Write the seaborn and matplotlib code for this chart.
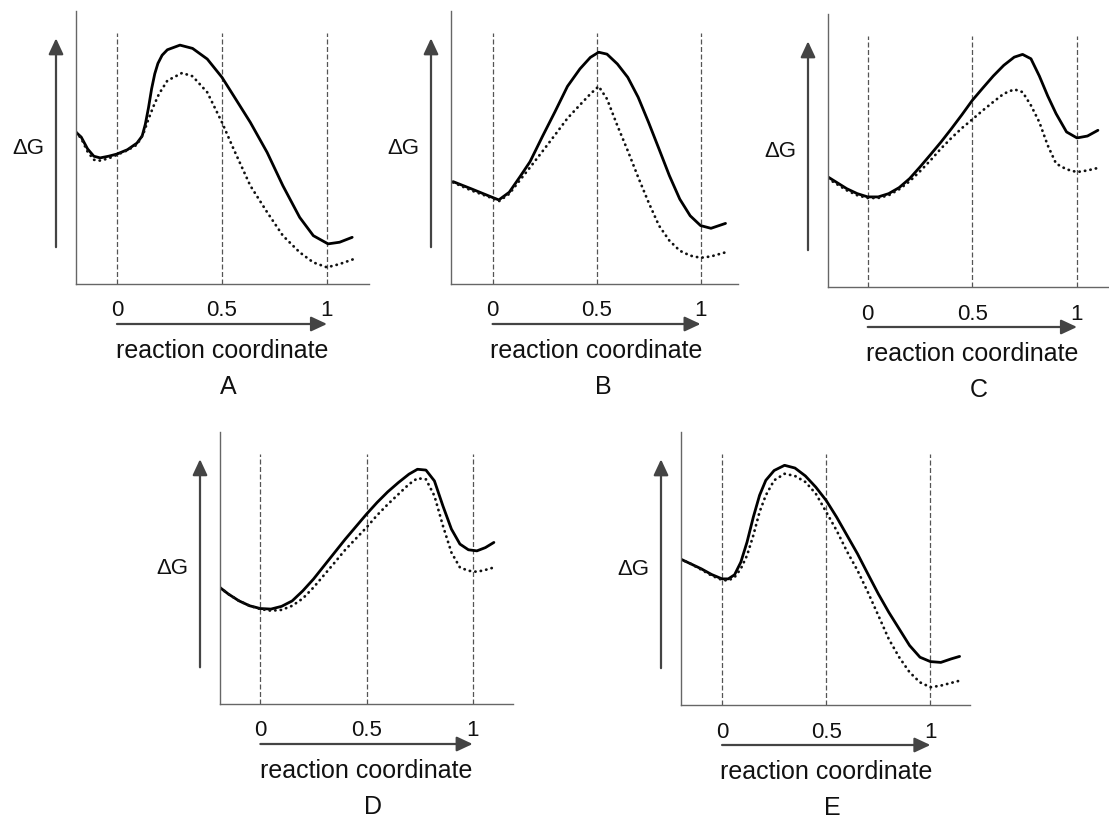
"""
Free energy profiles (A-E) along the reaction coordinate
"""

import matplotlib
matplotlib.use('Agg')
import matplotlib.pyplot as plt
import seaborn as sns

# reaction coordinate marks
TICKS = [0, 0.5, 1]
TICK_LABELS = ['0', '0.5', '1']

# panel A
A_x = [-0.195, -0.17, -0.14, -0.11, -0.08, -0.04, 0.0, 0.05, 0.095, 0.12, 0.135,
       0.15, 0.165, 0.18, 0.195, 0.215, 0.24, 0.30, 0.36, 0.43, 0.50, 0.555,
       0.635, 0.715, 0.79, 0.87, 0.935, 1.005, 1.06, 1.12]
A_solid = [5.56, 5.38, 4.95, 4.68, 4.62, 4.68, 4.76, 4.92, 5.16, 5.42, 5.85,
           6.45, 7.15, 7.70, 8.08, 8.38, 8.58, 8.75, 8.63, 8.24, 7.57, 6.90,
           5.92, 4.82, 3.60, 2.44, 1.77, 1.47, 1.53, 1.71]
A_dot_x = [-0.195, -0.17, -0.14, -0.11, -0.08, -0.04, 0.0, 0.05, 0.095, 0.125,
           0.15, 0.175, 0.20, 0.24, 0.31, 0.36, 0.43, 0.50, 0.555, 0.635, 0.715,
           0.79, 0.87, 0.935, 1.0, 1.06, 1.13]
A_dotted = [5.56, 5.33, 4.85, 4.55, 4.52, 4.60, 4.73, 4.90, 5.10, 5.49, 6.04,
            6.53, 6.96, 7.45, 7.73, 7.61, 7.02, 5.92, 4.95, 3.60, 2.63, 1.77,
            1.16, 0.79, 0.61, 0.73, 0.92]

# panel B
B_x = [-0.19, -0.1, 0.0, 0.03, 0.08, 0.13, 0.18, 0.24, 0.30, 0.36, 0.42, 0.47,
       0.51, 0.55, 0.60, 0.65, 0.70, 0.75, 0.80, 0.85, 0.90, 0.95, 1.0, 1.05, 1.12]
B_solid = [3.75, 3.48, 3.17, 3.08, 3.36, 3.91, 4.48, 5.41, 6.31, 7.24, 7.88, 8.30,
           8.49, 8.42, 8.06, 7.57, 6.84, 5.92, 4.95, 3.97, 3.11, 2.50, 2.14, 2.04, 2.22]
B_dotted = [3.72, 3.42, 3.14, 3.03, 3.30, 3.79, 4.27, 4.86, 5.46, 6.07, 6.56, 6.96,
            7.24, 6.78, 5.80, 4.88, 3.91, 2.99, 2.14, 1.59, 1.22, 1.04, 0.96, 1.01, 1.16]

# panel C
C_x = [-0.19, -0.1, -0.05, 0.0, 0.05, 0.10, 0.15, 0.20, 0.25, 0.30, 0.35, 0.40,
       0.45, 0.50, 0.55, 0.60, 0.65, 0.70, 0.74, 0.78, 0.82, 0.86, 0.90, 0.95,
       1.0, 1.05, 1.1]
C_solid = [4.03, 3.60, 3.42, 3.30, 3.30, 3.42, 3.64, 3.97, 4.40, 4.85, 5.31, 5.80,
           6.31, 6.84, 7.29, 7.73, 8.12, 8.42, 8.52, 8.36, 7.73, 7.00, 6.35, 5.68,
           5.46, 5.53, 5.74]
C_dotted = [3.97, 3.54, 3.36, 3.26, 3.26, 3.36, 3.58, 3.87, 4.24, 4.64, 5.07, 5.46,
            5.82, 6.14, 6.47, 6.78, 7.08, 7.24, 7.14, 6.65, 6.04, 5.19, 4.52, 4.31,
            4.21, 4.27, 4.36]

# panel D
D_x = [-0.19, -0.15, -0.1, -0.05, 0.0, 0.05, 0.10, 0.15, 0.20, 0.25, 0.30, 0.35,
       0.40, 0.45, 0.50, 0.55, 0.60, 0.65, 0.70, 0.74, 0.78, 0.82, 0.86, 0.90,
       0.94, 0.98, 1.02, 1.06, 1.1]
D_solid = [4.28, 4.04, 3.79, 3.61, 3.51, 3.49, 3.59, 3.79, 4.16, 4.59, 5.08, 5.57,
           6.06, 6.52, 6.98, 7.41, 7.80, 8.14, 8.45, 8.63, 8.60, 8.20, 7.28, 6.43,
           5.88, 5.67, 5.63, 5.75, 5.94]
D_dotted = [4.28, 4.04, 3.79, 3.61, 3.49, 3.43, 3.46, 3.61, 3.88, 4.28, 4.74, 5.20,
            5.67, 6.08, 6.49, 6.94, 7.34, 7.71, 8.08, 8.30, 8.26, 7.65, 6.55, 5.57,
            5.02, 4.90, 4.86, 4.93, 5.02]

# panel E
E_x = [-0.2, -0.15, -0.1, -0.05, 0.0, 0.03, 0.06, 0.09, 0.12, 0.15, 0.18, 0.21,
       0.25, 0.30, 0.35, 0.40, 0.45, 0.50, 0.55, 0.60, 0.65, 0.70, 0.75, 0.80,
       0.85, 0.90, 0.95, 1.0, 1.05, 1.1, 1.14]
E_solid = [5.35, 5.17, 4.99, 4.78, 4.62, 4.62, 4.77, 5.23, 5.97, 6.88, 7.68, 8.23,
           8.59, 8.78, 8.68, 8.39, 7.98, 7.49, 6.88, 6.21, 5.54, 4.80, 4.07, 3.40,
           2.79, 2.18, 1.75, 1.59, 1.56, 1.69, 1.78]
E_dotted = [5.35, 5.17, 4.96, 4.74, 4.58, 4.56, 4.68, 4.99, 5.48, 6.21, 7.07, 7.68,
            8.23, 8.47, 8.39, 8.17, 7.74, 7.07, 6.39, 5.62, 4.93, 4.13, 3.28, 2.42,
            1.75, 1.20, 0.83, 0.65, 0.71, 0.81, 0.89]

curves = {
    'A': (A_x, A_solid, A_dot_x, A_dotted),
    'B': (B_x, B_solid, B_x, B_dotted),
    'C': (C_x, C_solid, C_x, C_dotted),
    'D': (D_x, D_solid, D_x, D_dotted),
    'E': (E_x, E_solid, E_x, E_dotted),
}

# panel boxes in pixels: left, top, right, bottom, then xlim
boxes = {
    'A': (76, 12, 369, 285, -0.195, 1.2),
    'B': (451, 12, 738, 285, -0.2, 1.18),
    'C': (828, 15, 1109, 288, -0.19, 1.153),
    'D': (220, 433, 513, 705, -0.19, 1.19),
    'E': (681, 433, 970, 706, -0.197, 1.19),
}

sns.set_theme(style='white')
plt.rcParams['font.family'] = ['Liberation Sans', 'DejaVu Sans']

W, H = 1109, 829
fig = plt.figure(figsize=(W / 100, H / 100), dpi=100)

arrow_style = dict(arrowstyle='-|>,head_length=0.6,head_width=0.28',
                   color='#444444', lw=1.6, mutation_scale=16,
                   shrinkA=0, shrinkB=0)

for name, (xs, ys, xd, yd) in curves.items():
    l, t, r, b, x0, x1 = boxes[name]
    wpx, hpx = r - l, b - t
    ax = fig.add_axes([l / W, 1 - b / H, wpx / W, hpx / H])
    ax.set_xlim(x0, x1)
    ax.set_ylim(0, 10)
    ax.set_xticks([])
    ax.set_yticks([])
    ax.patch.set_alpha(0)
    for side in ['top', 'right']:
        ax.spines[side].set_visible(False)
    for side in ['left', 'bottom']:
        ax.spines[side].set_color('#666666')
        ax.spines[side].set_linewidth(1.0)

    ax.vlines(TICKS, 0, 9.2, colors='#555555', linestyles=(0, (4, 2)), linewidth=0.9)

    sns.lineplot(x=xs, y=ys, ax=ax, color='black', linewidth=2.0,
                 estimator=None, sort=False)
    sns.lineplot(x=xd, y=yd, ax=ax, color='#111111', linewidth=2.0,
                 linestyle=(0, (0.1, 1.9)), dash_capstyle='round',
                 estimator=None, sort=False)

    # x labels and reaction coordinate arrow
    xt = ax.get_xaxis_transform()
    for tk, lab in zip(TICKS, TICK_LABELS):
        ax.text(tk, -26 / hpx, lab, transform=xt, ha='center', va='center',
                fontsize=16, color='#111111', clip_on=False)
    ax.annotate('', xy=(1, -40 / hpx), xytext=(0, -40 / hpx),
                xycoords=xt, textcoords=xt, annotation_clip=False,
                arrowprops=arrow_style)
    ax.text(0.5, -66 / hpx, 'reaction coordinate', transform=xt,
            ha='center', va='center', fontsize=18, color='#111111', clip_on=False)
    ax.text(0.53, -102 / hpx, name, transform=xt, ha='center', va='center',
            fontsize=18, color='#111111', clip_on=False)

    # energy arrow and label
    yt = ax.get_yaxis_transform()
    ax.annotate('', xy=(-20 / wpx, 9.0), xytext=(-20 / wpx, 1.35),
                xycoords=yt, textcoords=yt, annotation_clip=False,
                arrowprops=arrow_style)
    ax.text(-48 / wpx, 0.5, '\u0394G', transform=ax.transAxes, ha='center',
            va='center', fontsize=16, color='#111111', clip_on=False)

fig.savefig('out.png', dpi=100)
